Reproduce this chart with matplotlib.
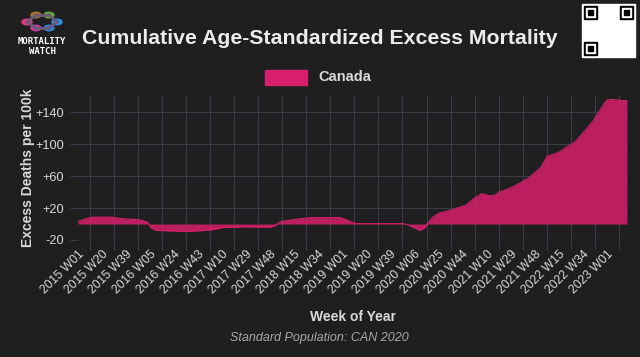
import numpy as np
import matplotlib.pyplot as plt
from matplotlib.patches import Rectangle, Circle

# cumulative excess deaths per 100k (week offset from 2015 W01)
weeks = [0, 5, 11, 25, 36, 47, 51, 55, 58, 62, 86, 96, 107, 114, 132, 152, 156,
         160, 170, 183, 207, 211, 217, 220, 228, 257, 260, 265, 270, 274, 277,
         280, 286, 292, 302, 307, 313, 319, 325, 329, 333, 341, 349, 357, 363,
         366, 367, 371, 377, 381, 386, 393, 399, 407, 412, 418, 423, 428, 434]
excess = [3, 6, 8.5, 8.7, 6.5, 5.5, 4.5, 2, -5, -8, -9.2, -8.5, -7, -4.5, -3.5,
          -4, -2, 3, 5.5, 8, 8, 6, 2, 0.5, 0.5, 0.5, -0.5, -4, -8, -5, 2,
          8, 14, 16, 21, 24, 32, 38, 35.5, 35.5, 40, 44.5, 51, 58.7, 67,
          71, 74, 85, 88, 90.5, 96, 103, 113.7, 128.5, 141, 155.4, 156, 155, 154.5]

tick_labels = ['2015 W01', '2015 W20', '2015 W39', '2016 W05', '2016 W24', '2016 W43',
               '2017 W10', '2017 W29', '2017 W48', '2018 W15', '2018 W34', '2019 W01',
               '2019 W20', '2019 W39', '2020 W06', '2020 W25', '2020 W44', '2021 W10',
               '2021 W29', '2021 W48', '2022 W15', '2022 W34', '2023 W01']
y_ticks = [-20, 20, 60, 100, 140]
country = 'Canada'

bg = '#1f1f1f'
grid_col = '#383b48'
pink = '#d81f6c'
txt = '#d9d9d9'

plt.rcParams['font.family'] = ['Liberation Sans', 'DejaVu Sans']

fig = plt.figure(figsize=(6.4, 3.57), dpi=100, facecolor=bg)
ax = fig.add_axes([78 / 640, 1 - 240 / 357, (627 - 78) / 640, (240 - 96.3) / 357])
ax.set_facecolor(bg)

ax.fill_between(weeks, 0, excess, color=pink, alpha=0.85, linewidth=0, zorder=3)
ax.plot(weeks, excess, color=pink, linewidth=0.8, zorder=3)

ax.set_xlim(0, 434)
ax.set_ylim(-20, 160)

step = 19
ax.set_xticks(np.arange(len(tick_labels)) * step)
ax.set_xticklabels(tick_labels, rotation=45, ha='right', rotation_mode='anchor',
                   fontsize=8.8, color=txt)
ax.set_xticks(np.arange(len(tick_labels)) * step + step / 2, minor=True)
ax.tick_params(axis='x', which='major', length=0, pad=6)
ax.tick_params(axis='x', which='minor', length=7, color=grid_col, width=0.8)
ax.grid(axis='x', which='minor', color=grid_col, linewidth=0.8, zorder=0)

ax.set_yticks(y_ticks)
ax.set_yticklabels(['%+d' % v for v in y_ticks], fontsize=9.2, color=txt)
ax.tick_params(axis='y', length=6, color=grid_col, width=0.8, pad=4)
ax.grid(axis='y', color=grid_col, linewidth=0.8, zorder=0)

for s in ax.spines.values():
    s.set_visible(False)

ax.set_xlabel('Week of Year', fontsize=10, fontweight='bold', color=txt, labelpad=10)
ax.set_ylabel('Excess Deaths per 100k', fontsize=10, fontweight='bold', color=txt,
              labelpad=0)

# title and legend
fig.text(82 / 640, 1 - 38 / 357, 'Cumulative Age-Standardized Excess Mortality',
         fontsize=15.3, fontweight='bold', color='#ececec', va='center', ha='left')
fig.patches.append(Rectangle((265 / 640, 1 - 85 / 357), 42 / 640, 15 / 357,
                             transform=fig.transFigure, color=pink))
fig.text(318 / 640, 1 - 77 / 357, country, fontsize=10.5, fontweight='bold',
         color=txt, va='center', ha='left')

fig.text(319 / 640, 1 - 338 / 357, 'Standard Population: CAN 2020', fontsize=9,
         style='italic', color='#a8a8a8', ha='center', va='center')

# logo
links = [((27, 22), (36, 15)), ((36, 15), (49, 15)), ((49, 15), (57, 22)),
         ((27, 22), (36, 28)), ((36, 28), (49, 28)), ((49, 28), (57, 22))]
for (x0, y0), (x1, y1) in links:
    fig.add_artist(plt.Line2D([x0 / 640, x1 / 640], [1 - y0 / 357, 1 - y1 / 357],
                              transform=fig.transFigure, color='#6a5a7a', lw=2))
dots = [(27, 22, '#e8357f'), (36, 15, '#a8702a'), (49, 15, '#6aa83a'),
        (57, 22, '#2f8de0'), (36, 28, '#c0399e'), (49, 28, '#2f7fe0')]
for px, py, c in dots:
    fig.patches.append(Circle((px / 640, 1 - py / 357), 5 / 640,
                              transform=fig.transFigure, color=c))
fig.text(42 / 640, 1 - 42 / 357, 'MORTALITY', fontsize=6.5, fontweight='bold',
         family='DejaVu Sans Mono', color='white', ha='center', va='center')
fig.text(42 / 640, 1 - 52 / 357, 'WATCH', fontsize=6.5, fontweight='bold',
         family='DejaVu Sans Mono', color='white', ha='center', va='center')

# qr code placeholder with finder patterns
qx, qy, qs = 582, 4, 53
fig.patches.append(Rectangle((qx / 640, 1 - (qy + qs) / 357), qs / 640, qs / 357,
                             transform=fig.transFigure, color='white'))
for fx, fy in [(qx + 2, qy + 2), (qx + qs - 15, qy + 2), (qx + 2, qy + qs - 15)]:
    fig.patches.append(Rectangle((fx / 640, 1 - (fy + 13) / 357), 13 / 640, 13 / 357,
                                 transform=fig.transFigure, color='black'))
    fig.patches.append(Rectangle(((fx + 2) / 640, 1 - (fy + 11) / 357), 9 / 640, 9 / 357,
                                 transform=fig.transFigure, color='white'))
    fig.patches.append(Rectangle(((fx + 4) / 640, 1 - (fy + 9) / 357), 5 / 640, 5 / 357,
                                 transform=fig.transFigure, color='black'))

fig.savefig('out.png', dpi=100, facecolor=bg)
